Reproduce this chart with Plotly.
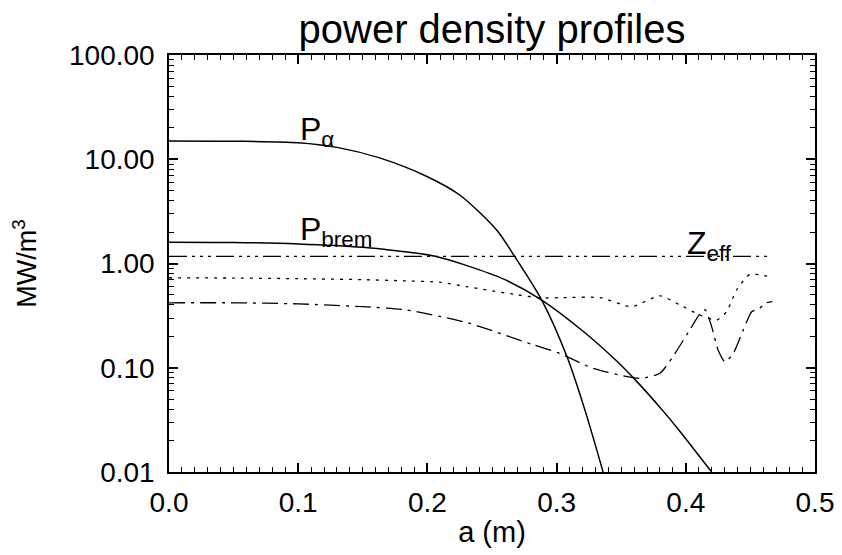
import plotly.graph_objects as go

# ---- data ----
a_alpha = [0.0, 0.05, 0.10, 0.13, 0.163, 0.20, 0.225, 0.2536, 0.266, 0.2885, 0.308, 0.322, 0.336]
p_alpha = [15.0, 14.9, 14.4, 13.0, 10.3, 6.8, 4.54, 2.1, 1.25, 0.446, 0.128, 0.039, 0.01]

a_brem = [0.0, 0.05, 0.10, 0.15, 0.179, 0.205, 0.230, 0.26, 0.2885, 0.3205, 0.3465, 0.362, 0.382, 0.3955, 0.42]
p_brem = [1.6, 1.59, 1.54, 1.43, 1.31, 1.18, 0.96, 0.70, 0.446, 0.224, 0.116, 0.074, 0.039, 0.0245, 0.01]

a_zeff = [0.0, 0.466]
zeff = [1.17, 1.17]

a_dot = [0.0, 0.05, 0.10, 0.15, 0.179, 0.21, 0.23, 0.27, 0.2885, 0.3026, 0.3336, 0.358, 0.380,
         0.3955, 0.411, 0.424, 0.4316, 0.4394, 0.4497, 0.457, 0.467]
v_dot = [0.73, 0.725, 0.715, 0.70, 0.684, 0.66, 0.60, 0.50, 0.467, 0.47, 0.47, 0.385, 0.49,
         0.40, 0.32, 0.287, 0.345, 0.56, 0.79, 0.78, 0.74]

a_dd = [0.0, 0.05, 0.10, 0.15, 0.183, 0.231, 0.282, 0.3026, 0.328, 0.3645, 0.38, 0.390, 0.403,
        0.411, 0.415, 0.42, 0.425, 0.4303, 0.4367, 0.4445, 0.451, 0.457, 0.462, 0.467]
v_dd = [0.42, 0.42, 0.41, 0.385, 0.36, 0.27, 0.166, 0.137, 0.099, 0.079, 0.0885, 0.128, 0.23,
        0.33, 0.36, 0.248, 0.148, 0.114, 0.137, 0.23, 0.345, 0.37, 0.42, 0.43]

x_ticks = [0.0, 0.1, 0.2, 0.3, 0.4, 0.5]
x_ticktext = ["0.0", "0.1", "0.2", "0.3", "0.4", "0.5"]
y_ticks = [0.01, 0.1, 1, 10, 100]
y_ticktext = ["0.01", "0.10", "1.00", "10.00", "100.00"]

FONT = "Liberation Sans, Arial, Helvetica, sans-serif"

fig = go.Figure()
line_solid = dict(color="black", width=1.5, shape="spline", smoothing=0.8)
fig.add_trace(go.Scatter(x=a_alpha, y=p_alpha, mode="lines", line=line_solid))
fig.add_trace(go.Scatter(x=a_brem, y=p_brem, mode="lines", line=line_solid))
fig.add_trace(go.Scatter(x=a_zeff, y=zeff, mode="lines",
                         line=dict(color="black", width=1.3,
                                   dash="18px,5px,3px,5px,3px,5px,3px,5px")))
fig.add_trace(go.Scatter(x=a_dot, y=v_dot, mode="lines",
                         line=dict(color="black", width=1.3, dash="3px,6px",
                                   shape="spline", smoothing=0.6)))
fig.add_trace(go.Scatter(x=a_dd, y=v_dd, mode="lines",
                         line=dict(color="black", width=1.3, dash="16px,6px,3px,6px",
                                   shape="spline", smoothing=0.6)))

# the page body has an 8px margin, so the figure is 8px smaller and shifted
fig.update_layout(
    template="none",
    width=834, height=547,
    margin=dict(l=161, r=27, t=47, b=83, autoexpand=False),
    paper_bgcolor="white", plot_bgcolor="white",
    showlegend=False,
    font=dict(family=FONT, color="black", size=28),
    title=dict(text="power density profiles", x=0.5, xref="paper", xanchor="center",
               y=0.962, yref="container", yanchor="middle",
               font=dict(size=40)),
    xaxis=dict(range=[0, 0.5], tickmode="array", tickvals=x_ticks, ticktext=x_ticktext,
               ticks="inside", ticklen=9, tickwidth=1.5, tickcolor="#000000",
               showline=True, linecolor="black", linewidth=1.5, mirror="allticks",
               showgrid=False, zeroline=False, automargin=False,
               minor=dict(dtick=0.01, tick0=0, ticks="inside", ticklen=5,
                          tickwidth=1.3, tickcolor="#000000", showgrid=False),
               ticklabelstandoff=5,
               title=dict(text="a (m)", standoff=4, font=dict(size=29)),
               tickfont=dict(size=28)),
    yaxis=dict(type="log", range=[-2, 2], tickmode="array", tickvals=y_ticks, ticktext=y_ticktext,
               ticks="inside", ticklen=9, tickwidth=1.5, tickcolor="#000000",
               showline=True, linecolor="black", linewidth=1.5, mirror="allticks",
               showgrid=False, zeroline=False, automargin=False,
               minor=dict(dtick="D1", ticks="inside", ticklen=5,
                          tickwidth=1.3, tickcolor="#000000", showgrid=False),
               ticklabelstandoff=7,
               title=dict(text="MW/m<sup>3</sup>", standoff=30, font=dict(size=27)),
               tickfont=dict(size=28)),
)

ann_font = dict(family=FONT, size=32, color="black")
fig.add_annotation(x=0.1, y=1.27, xref="x", yref="y", text="P<sub>α</sub>",
                   showarrow=False, xanchor="left", yanchor="middle", font=ann_font)
fig.add_annotation(x=0.1, y=0.31, xref="x", yref="y", text="P<sub>brem</sub>",
                   showarrow=False, xanchor="left", yanchor="middle", font=ann_font)
fig.add_annotation(x=0.3994, y=0.17, xref="x", yref="y", text="Z<sub>eff</sub>",
                   showarrow=False, xanchor="left", yanchor="middle", font=ann_font)

fig.write_html("out.html")
